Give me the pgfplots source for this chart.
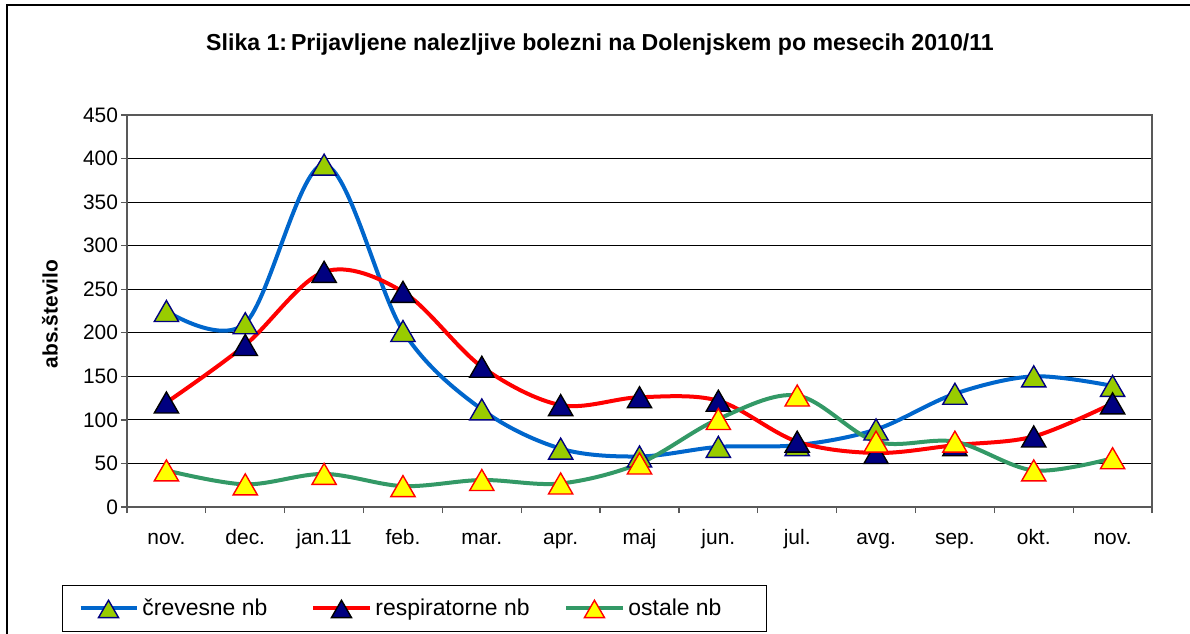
\documentclass[border=0pt]{standalone}
\usepackage{pgfplots}
\pgfplotsset{compat=1.18}
\usepackage{fontspec}
\setmainfont{Liberation Sans}
\definecolor{cblue}{RGB}{0,102,204}
\definecolor{cred}{RGB}{255,0,0}
\definecolor{cgreen}{RGB}{51,153,102}
\definecolor{fyg}{RGB}{153,204,0}
\definecolor{fnavy}{RGB}{0,0,128}
\definecolor{fyellow}{RGB}{255,255,0}
\pgfplotstableread{
x y
0 225
1 211
2 393
3 202
4 112
5 67
6 58
7 69
8 71
9 89
10 130
11 150
12 139
}\tblue
\pgfplotstableread{
x y
0 120
1 186
2 270
3 247
4 161
5 117
6 126
7 122
8 75
9 62
10 71
11 81
12 119
}\tred
\pgfplotstableread{
x y
0 42
1 26
2 38
3 24
4 31
5 27
6 50
7 101
8 128
9 75
10 75
11 42
12 56
}\tgreen
\begin{document}
\begin{tikzpicture}[x=1bp,y=1bp]
\useasboundingbox (-63.5,-63) rectangle (531.5,253.5);
\draw[line width=0.6bp] (-60,-70) -- (-60,251) -- (540,251);
\node[font=\bfseries\fontsize{11.6}{13}\selectfont] at (236.5,231) {Slika 1:\,Prijavljene nalezljive bolezni na Dolenjskem po mesecih 2010/11};
\node[font=\bfseries\fontsize{10.5}{12}\selectfont, rotate=90] at (-38.5,96.5) {abs.število};
\begin{axis}[
  scale only axis, width=512.5bp, height=196bp, at={(0,0)}, anchor=south west,
  xmin=-0.5, xmax=12.5, ymin=0, ymax=450,
  ytick={0,50,...,450},
  ymajorgrids, grid style={black, line width=0.5bp},
  xtick={-0.5,0.5,...,12.5}, xticklabels={},
  extra x ticks={0,1,2,3,4,5,6,7,8,9,10,11,12},
  extra x tick labels={nov.,dec.,jan.11,feb.,mar.,apr.,maj,jun.,jul.,avg.,sep.,okt.,nov.},
  extra x tick style={major tick length=0pt},
  tick align=outside, major tick length=3bp, tick pos=lower,
  tick style={gray!70!black, line width=0.6bp},
  axis line style={gray!70!black, line width=0.8bp},
  ticklabel style={font=\fontsize{10.5}{12}\selectfont},
  /pgf/number format/assume math mode=true,
  /pgf/number format/1000 sep={},
  xticklabel style={text height=1.6ex, text depth=0.3ex, yshift=-7bp},
  yticklabel style={xshift=2bp},
  legend style={at={(rel axis cs:-0.0634,-0.199)}, anchor=north west,
    legend columns=3, draw=black, line width=0.5bp,
    font=\fontsize{11.5}{13}\selectfont, inner ysep=4.5bp, inner xsep=8bp},
  legend image code/.code={\draw[#1, mark repeat=2, mark phase=2, mark size=5.8bp] plot coordinates {(0bp,0bp) (14bp,0bp) (28bp,0bp)};},
  every axis plot/.append style={line width=2bp, smooth, tension=0.55, mark=triangle*, mark size=7bp},
]
\addplot[cblue, mark options={fill=fyg, draw=fnavy, line width=0.7bp, yshift=-1.75bp}] table[x=x,y=y] {\tblue};
\addlegendentry{\makebox[82.5bp][l]{črevesne nb}}
\addplot[cred, mark options={fill=fnavy, draw=black, line width=0.7bp, yshift=-1.75bp}] table[x=x,y=y] {\tred};
\addlegendentry{\makebox[92.5bp][l]{respiratorne nb}}
\addplot[cgreen, mark options={fill=fyellow, draw=cred, line width=0.7bp, yshift=-1.75bp}] table[x=x,y=y] {\tgreen};
\addlegendentry{\makebox[59bp][l]{ostale nb}}
\end{axis}
\end{tikzpicture}
\end{document}
